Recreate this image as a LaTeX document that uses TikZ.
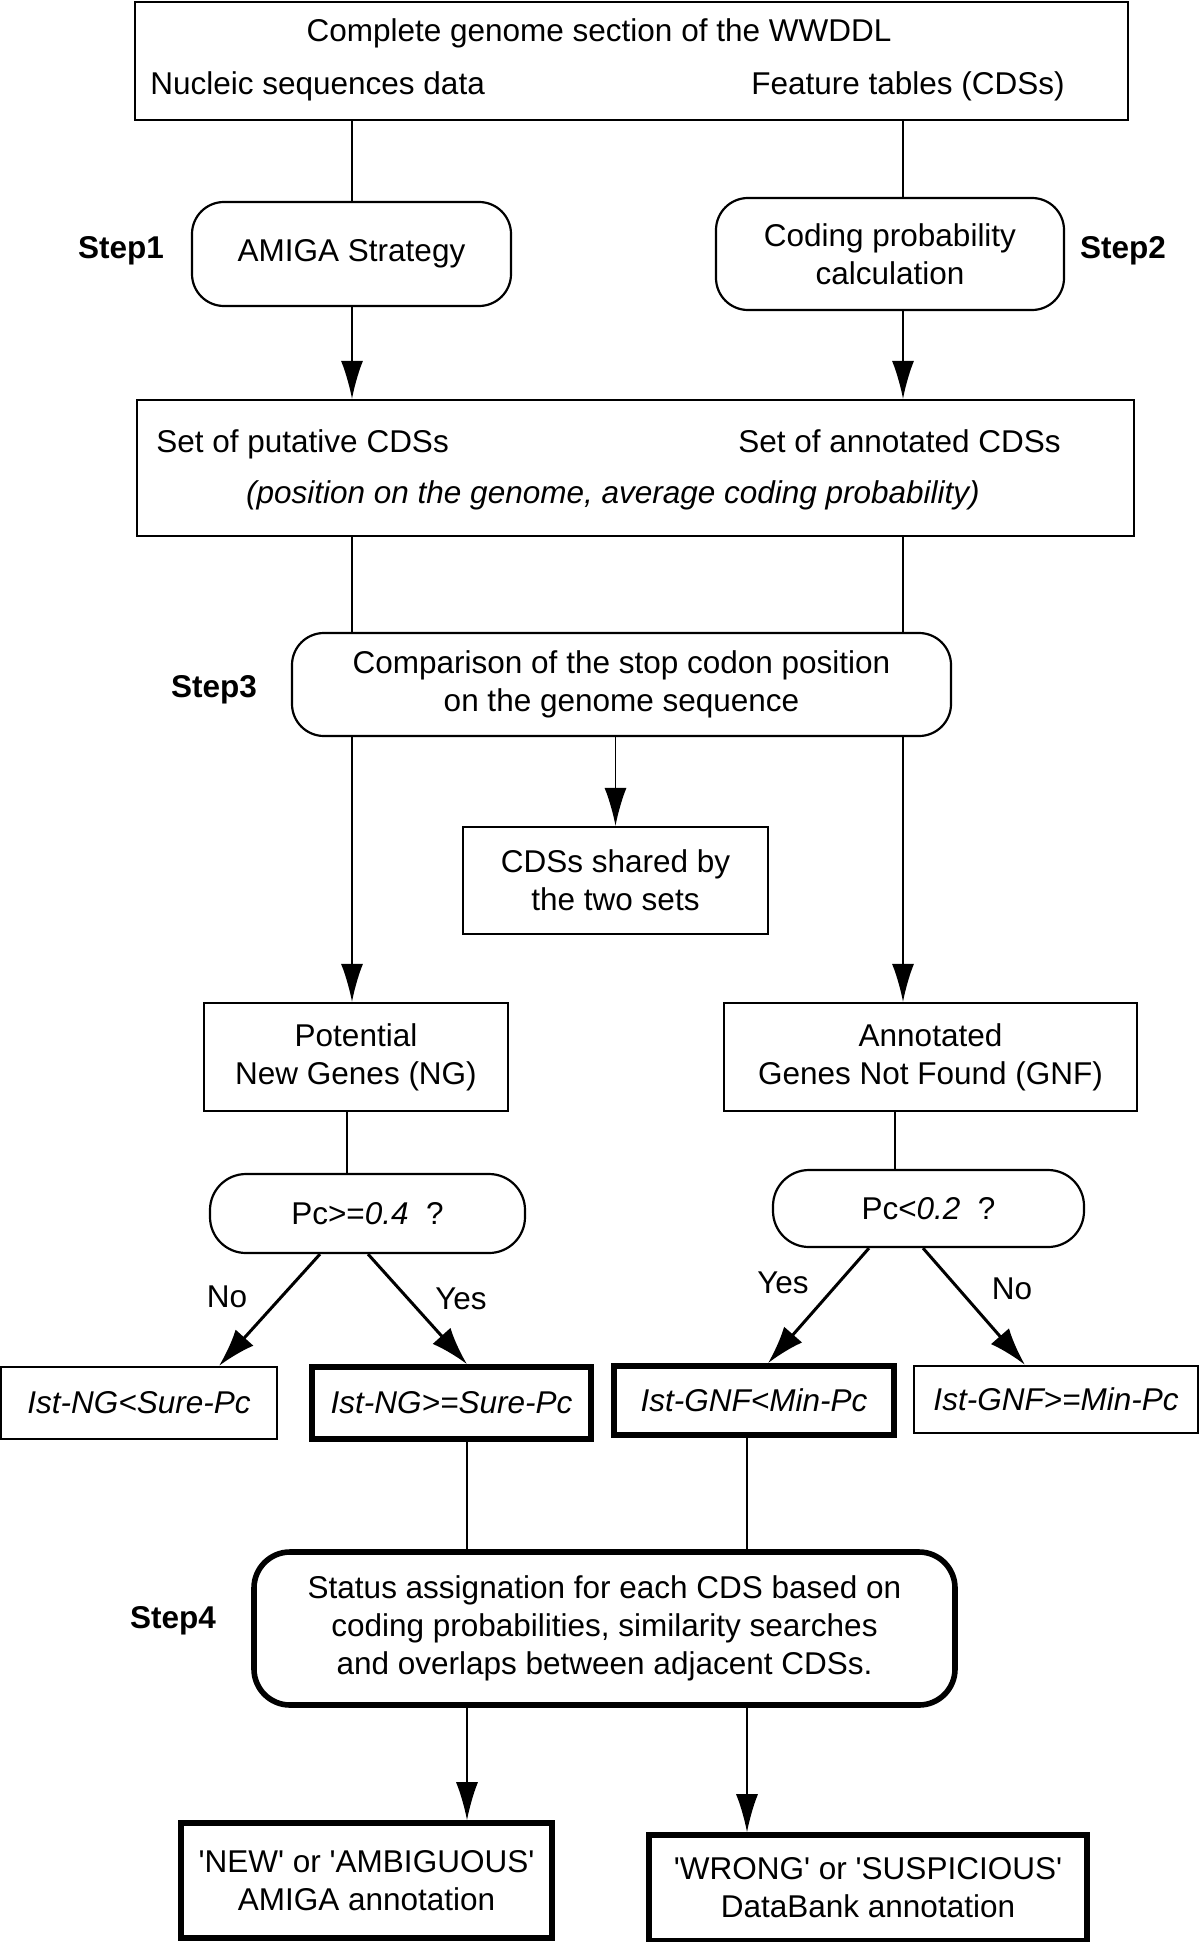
\documentclass[tikz,border=0pt]{standalone}
\usepackage{fontspec}
\setmainfont{Liberation Sans}
\usetikzlibrary{arrows.meta,calc}

\tikzset{
  box/.style={draw, line width=1.1pt, inner sep=0pt, align=center},
  boldbox/.style={box, line width=2.8pt},
  roundbox/.style={box, rounded corners=16pt},
  txt/.style={inner sep=0pt},
  steplabel/.style={font=\fontsize{15.75}{19}\selectfont\bfseries},
  link/.style={line width=0.8pt},
  arr/.style={link, -{Latex[length=19pt,width=11pt]}},
  branch/.style={line width=1.5pt, -{Latex[length=19pt,width=12pt]}},
}

\begin{document}
\begin{tikzpicture}[x=0.5pt, y=-0.5pt, font=\fontsize{15.75}{19}\selectfont]
  %%%%% START %%%%%
  \useasboundingbox (0,0) rectangle (1200,1942);

  % columns of the connectors
  \coordinate (colL) at (352,0);
  \coordinate (colR) at (903,0);
  \coordinate (colA) at (347,0);
  \coordinate (colB) at (895,0);
  \coordinate (colC) at (467,0);
  \coordinate (colD) at (747,0);

  % input data
  \node[box, minimum width=496.5pt, minimum height=59pt] (top) at (631.5,61) {};
  \node (toptitle) at (599,33) {Complete genome section of the WWDDL};
  \node[txt, anchor=base west] (nucleic) at (150,95) {Nucleic sequences data};
  \node[txt, anchor=base east] (feature) at (1065,95) {Feature tables (CDSs)};

  % step 1 and 2
  \node[roundbox, minimum width=159.5pt, minimum height=52pt] (amiga) at (351.5,254) {AMIGA Strategy};
  \node[roundbox, minimum width=174pt, minimum height=56pt] (coding) at (890,254) {Coding probability\\calculation};
  \node[steplabel] (step1) at (121,251) {Step1};
  \node[steplabel] (step2) at (1123,251) {Step2};

  % the two sets
  \node[box, minimum width=498.5pt, minimum height=68pt] (set) at (635.5,468) {};
  \node[txt, anchor=base west] (putative) at (156,452) {Set of putative CDSs};
  \node[txt, anchor=base east] (annotated) at (1061,452) {Set of annotated CDSs};
  \node (setinfo) at (613,495) {\itshape (position on the genome, average coding probability)};

  % step 3
  \node[roundbox, minimum width=329.5pt, minimum height=51.5pt] (cmp) at (621.5,684.5) {Comparison of the stop codon position\\on the genome sequence};
  \node[steplabel] (step3) at (214,690) {Step3};
  \node[box, minimum width=152.5pt, minimum height=53.5pt] (shared) at (615.5,880.5) {CDSs shared by\\the two sets};
  \node[box, minimum width=152pt, minimum height=54pt] (ng) at (356,1057) {Potential\\New Genes (NG)};
  \node[box, minimum width=206.5pt, minimum height=54pt] (gnf) at (930.5,1057) {Annotated\\Genes Not Found (GNF)};

  % thresholds
  \node[box, rounded corners=18pt, minimum width=157.5pt, minimum height=39.5pt] (pcA) at (367.5,1213.5) {Pc>=\textit{0.4}\ \ ?};
  \node[box, rounded corners=18pt, minimum width=155.5pt, minimum height=38.5pt] (pcB) at (928.5,1208.5) {Pc<\textit{0.2}\ \ ?};
  \node[box, minimum width=138pt, minimum height=36pt] (nglow) at (139,1403) {\itshape Ist-NG<Sure-Pc};
  \node[boldbox, minimum width=139.5pt, minimum height=36pt] (nghigh) at (451.5,1403) {\itshape Ist-NG>=Sure-Pc};
  \node[boldbox, minimum width=140pt, minimum height=34.5pt] (gnflow) at (754,1400.5) {\itshape Ist-GNF<Min-Pc};
  \node[box, minimum width=142pt, minimum height=33.5pt] (gnfhigh) at (1056,1399.5) {\itshape Ist-GNF>=Min-Pc};
  \node (noA) at (227,1297) {No};
  \node (yesA) at (461,1299) {Yes};
  \node (yesB) at (783,1283) {Yes};
  \node (noB) at (1012,1289) {No};

  % step 4
  \node[boldbox, rounded corners=18pt, minimum width=350.5pt, minimum height=76.5pt] (status) at (604.5,1628.5) {Status assignation for each CDS based on\\coding probabilities, similarity searches\\and overlaps between adjacent CDSs.};
  \node[steplabel] (step4) at (173,1621) {Step4};
  \node[boldbox, minimum width=185.5pt, minimum height=57.5pt] (new) at (366.5,1880.5) {\textquotesingle NEW\textquotesingle{} or \textquotesingle AMBIGUOUS\textquotesingle\\AMIGA annotation};
  \node[boldbox, minimum width=219pt, minimum height=53pt] (wrong) at (868,1888) {\textquotesingle WRONG\textquotesingle{} or \textquotesingle SUSPICIOUS\textquotesingle\\DataBank annotation};

  % connectors
  \draw[link] (top.south -| colL) -- (amiga.north -| colL);
  \draw[link] (top.south -| colR) -- (coding.north -| colR);
  \draw[arr] (amiga.south -| colL) -- (set.north -| colL);
  \draw[arr] (coding.south -| colR) -- (set.north -| colR);
  \draw[link] (set.south -| colL) -- (cmp.north -| colL);
  \draw[link] (set.south -| colR) -- (cmp.north -| colR);
  \draw[arr] (cmp.south -| colL) -- (ng.north -| colL);
  \draw[arr] (cmp.south -| colR) -- (gnf.north -| colR);
  \draw[arr] (cmp.south -| shared.north) -- (shared.north);
  \draw[link] (ng.south -| colA) -- (pcA.north -| colA);
  \draw[link] (gnf.south -| colB) -- (pcB.north -| colB);
  \draw[branch] ($(pcA.south)+(-47.5,0)$) -- ($(nglow.north)+(80,0)$);
  \draw[branch] ($(pcA.south)+(0.5,0)$) -- ($(nghigh.north)+(15.5,0)$);
  \draw[branch] ($(pcB.south)+(-59.5,0)$) -- ($(gnflow.north)+(14,0)$);
  \draw[branch] ($(pcB.south)+(-5.5,0)$) -- ($(gnfhigh.north)+(-31,0)$);
  \draw[link] (nghigh.south -| colC) -- (status.north -| colC);
  \draw[link] (gnflow.south -| colD) -- (status.north -| colD);
  \draw[arr] (status.south -| colC) -- (new.north -| colC);
  \draw[arr] (status.south -| colD) -- (wrong.north -| colD);
  %%%%% END %%%%%
\end{tikzpicture}
\end{document}
